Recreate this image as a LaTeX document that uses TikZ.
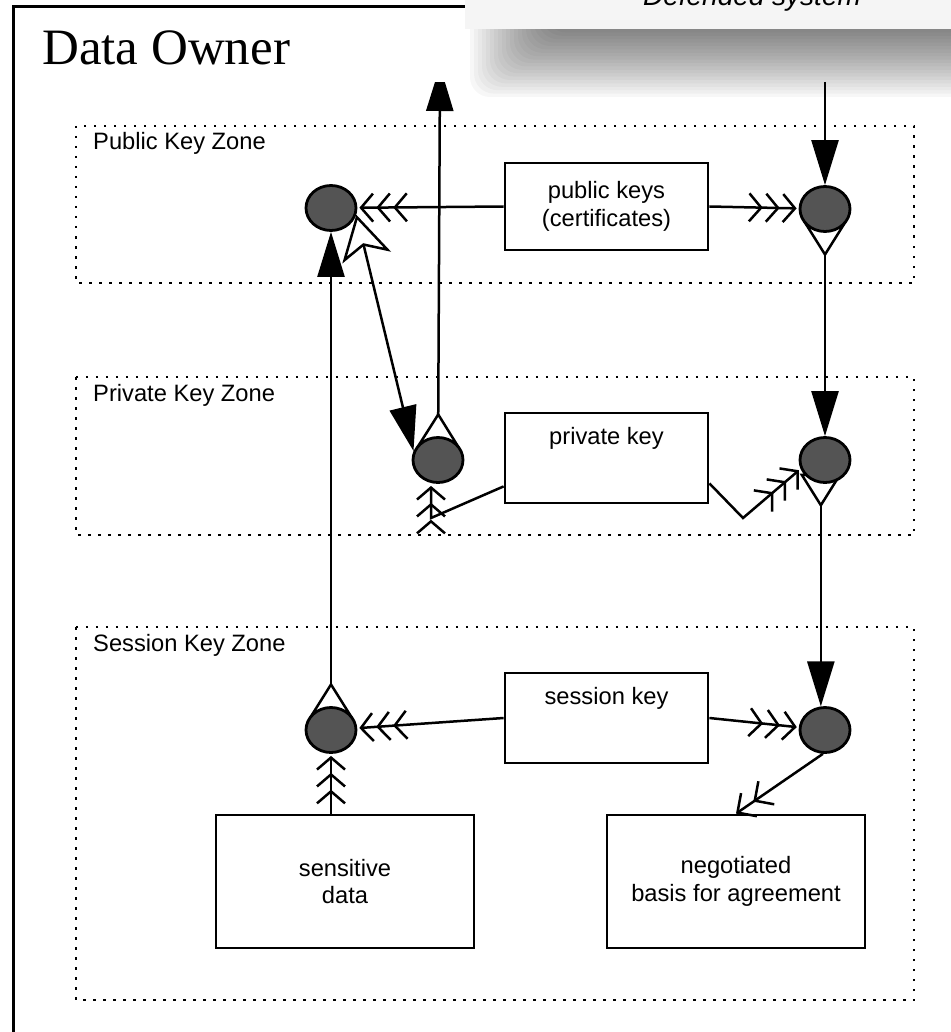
\documentclass[tikz,border=0pt]{standalone}
\usepackage{fontspec}
\setmainfont{Liberation Sans}
\newfontfamily\ownerfont{Liberation Serif}
\usetikzlibrary{arrows.meta,shapes.geometric,backgrounds}

\tikzset{
  fat/.tip={Triangle[length=45pt,width=27pt]},
  hollow/.tip={Triangle[open,reversed,length=34pt,width=42pt]},
  kite/.tip={Stealth[open,length=44pt,width=50pt,inset=12pt]},
  barb/.tip={Straight Barb[length=12pt,width=28pt,sep=2pt]},
  thrice/.tip={barb[]barb[]barb[]},
  twice/.tip={Straight Barb[length=14pt,width=28pt,sep=4pt]Straight Barb[length=14pt,width=28pt,sep=0pt]},
  zone/.style={draw,line width=2.5pt,dash pattern=on 2.5pt off 7.5pt},
  zonelabel/.style={anchor=base west,inner sep=0pt,font=\fontsize{23.7}{27}\selectfont},
  box/.style={draw,line width=2.8pt,fill=white,minimum width=203pt,inner sep=0pt,
    align=center,font=\fontsize{23.7}{27.5}\selectfont},
  topbox/.style={box,text height=22pt,text depth=50pt,inner ysep=9pt},
  hub/.style={ellipse,draw,line width=2.8pt,fill=black!67,minimum width=50pt,
    minimum height=45pt,inner sep=0pt},
  conn/.style={line width=2.5pt},
  tail/.style={shorten <=-10pt}
}

\begin{document}
\begin{tikzpicture}[x=1pt,y=-1pt]
\useasboundingbox (0,0) rectangle (950,1032);

% frame of the data owner
\draw[line width=3pt] (13,1060) -- (13,7) -- (1000,7);
\node[anchor=base west,inner sep=0pt,font=\ownerfont\fontsize{51}{60}\selectfont] (owner) at (42,65) {Data Owner};

% zones
\draw[zone] (76,126) rectangle (914,283);
\node[zonelabel] (pubzone) at (93,150) {Public Key Zone};
\draw[zone] (76,377) rectangle (914,535);
\node[zonelabel] (privzone) at (93,401) {Private Key Zone};
\draw[zone] (76,627) rectangle (914,1000);
\node[zonelabel] (sesszone) at (93,651) {Session Key Zone};

% boxes
\node[box,minimum height=87pt] (pubkeys) at (606.5,206.5) {public keys\\(certificates)};
\node[topbox,minimum height=90pt] (privkey) at (606.5,458) {private key};
\node[topbox,minimum height=90pt] (sesskey) at (606.5,718) {session key};
\node[box,minimum width=258pt,minimum height=133pt] (sensitive) at (345,881.5) {sensitive\\data};
\node[box,minimum width=258pt,minimum height=133pt] (negot) at (736,881.5) {negotiated\\basis for agreement};

% hubs
\node[hub] (P1) at (331,208) {};
\node[hub] (P2) at (825,209) {};
\node[hub] (V1) at (438,460) {};
\node[hub] (V2) at (825,460) {};
\node[hub] (S1) at (331,730) {};
\node[hub] (S2) at (825,730) {};

\coordinate (ext) at (825,82);
\coordinate (up) at (440,66);
\coordinate (pk1) at (431,518);
\coordinate (pk2) at (743,518);

\begin{scope}[on background layer]
\draw[conn,-thrice] (pubkeys.west) -- (P1);
\draw[conn,-thrice] (pubkeys.east) -- (P2);
\draw[conn,-fat] (ext) -- (P2);
\draw[conn,tail,hollow-fat] (P2) -- (V2);
\draw[conn,tail,hollow-fat] (V2.-100) -- (S2.100);
\draw[conn,-thrice] (sesskey.west) -- (S1);
\draw[conn,-thrice] (sesskey.east) -- (S2);
\draw[conn,-thrice] (sensitive.north -| S1) -- (S1);
\draw[conn,tail,hollow-fat] (S1) -- (P1);
\draw[conn,kite-fat] (P1.-15) -- (V1.160);
\draw[conn,-thrice] ([yshift=18pt]privkey.south west) -- (pk1) -- (pk1 |- V1.south);
\draw[conn,-thrice] ([yshift=21pt]privkey.south east) -- (pk2) -- (V2.200);
\draw[conn,tail,hollow-fat] (V1) -- (up);
\end{scope}
\draw[conn,-twice] (S2.-95) -- (negot.north);

% defended system and its shadow
\foreach \i in {0,...,19}
  \fill[black,opacity=0.032,rounded corners=20pt] (470+4*\i,-50) rectangle (990,97-3.4*\i);
\node[anchor=base,fill=black!4,minimum width=575pt,text height=200pt,text depth=18pt,inner ysep=5pt,
  font=\itshape\fontsize{28}{32}\selectfont] (defended) at (752,6) {Defended system};
\fill[white] (420,22) rectangle (465,82);
\end{tikzpicture}
\end{document}
